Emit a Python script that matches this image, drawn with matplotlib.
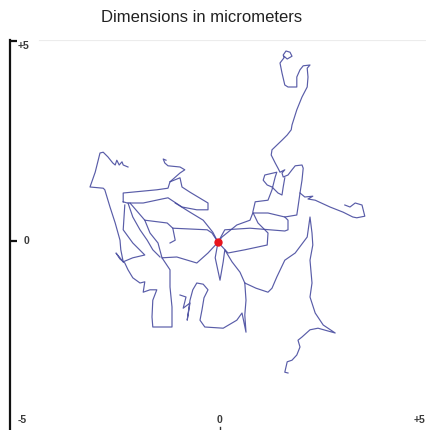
import numpy as np
import matplotlib
matplotlib.use("Agg")
import matplotlib.pyplot as plt

plt.rcParams['font.family'] = ['Liberation Sans', 'DejaVu Sans']

# ---- trajectory pieces (micrometers) ----
start_x = [-0.05]
start_y = [-0.03]

lower_right_x = [-0.05, -0.12, 0.0, 0.08, 0.12, 0.30, 0.50, 0.62, 0.90, 1.20, 1.30, 1.42, 1.62, 1.88, 2.18, 2.25,
                 2.30, 2.32, 2.25, 2.30, 2.25, 2.38, 2.58, 2.88, 2.45, 2.25, 2.05, 1.95, 2.00, 1.92, 1.80, 1.68, 1.62, 1.70]
lower_right_y = [-0.03, -0.42, -0.98, -0.52, -0.22, -0.52, -0.78, -1.05, -1.18, -1.28, -1.18, -0.90, -0.48, -0.30, 0.10, 0.60,
                 0.20, -0.10, -0.48, -1.05, -1.40, -1.80, -2.10, -2.30, -2.18, -2.22, -2.40, -2.48, -2.65, -2.85, -2.98, -3.02, -3.28, -3.30]

lower_mid_x = [0.62, 0.65, 0.62, 0.65, 0.55, 0.42, 0.08, -0.38, -0.50, -0.45, -0.40, -0.30, -0.42, -0.58, -0.68, -0.75,
               -0.82, -0.75, -0.92, -0.85, -1.00]
lower_mid_y = [-1.05, -1.48, -1.85, -2.28, -1.80, -1.98, -2.18, -2.15, -1.98, -1.72, -1.42, -1.22, -1.08, -1.05, -1.22, -1.48,
               -1.98, -1.55, -1.68, -1.40, -1.35]

tower_x = [-0.05, 0.05, 0.42, 0.75, 0.82, 1.20, 1.62, 1.92, 1.95, 2.00, 2.05, 2.08, 2.05, 1.88, 1.80, 1.70, 1.58, 1.55,
           1.62, 1.50, 1.45, 1.38, 1.28, 1.30, 1.55, 1.68, 1.78, 1.80, 1.92, 2.05, 2.18, 2.20, 2.18, 2.25, 2.08, 2.00,
           1.92, 1.92, 1.70, 1.62, 1.55, 1.50, 1.60, 1.58, 1.65, 1.75, 1.80, 1.68, 1.60]
tower_y = [-0.03, 0.10, 0.40, 0.52, 0.70, 0.70, 0.60, 0.65, 0.85, 1.20, 1.52, 1.82, 1.90, 1.88, 1.78, 1.65, 1.60, 1.70,
           1.78, 1.72, 1.82, 1.95, 2.15, 2.28, 2.52, 2.65, 2.78, 2.90, 3.28, 3.60, 3.85, 4.10, 4.32, 4.40, 4.38, 4.28,
           4.10, 3.85, 3.85, 3.90, 4.20, 4.45, 4.58, 4.65, 4.75, 4.72, 4.62, 4.55, 4.62]

cluster_x = [1.62, 1.58, 1.55, 1.45, 1.30, 1.18, 1.08, 1.12, 1.42, 1.38, 1.30, 1.20, 0.88, 0.82, 0.95, 1.20, 1.18,
             0.62, 0.20, -0.05]
cluster_y = [1.58, 1.35, 1.15, 1.20, 1.35, 1.40, 1.52, 1.65, 1.72, 1.60, 1.28, 1.02, 0.98, 0.72, 0.45, 0.20, -0.10,
             -0.22, -0.30, -0.03]

right_arm_x = [2.00, 2.12, 2.32, 2.20, 2.38, 2.75, 3.08, 3.32, 3.42, 3.62, 3.55, 3.38, 3.25, 3.12]
right_arm_y = [1.20, 1.10, 1.12, 1.05, 1.02, 0.85, 0.72, 0.60, 0.58, 0.62, 0.90, 0.95, 0.85, 0.90]

mid_band_x = [-0.05, 0.12, 0.75, 1.62, 1.70, 1.70, 1.62]
mid_band_y = [-0.03, 0.28, 0.32, 0.25, 0.28, 0.52, 0.60]

left_line_x = [-0.05, -0.20, -0.32, -0.75, -1.18, -1.32, -1.88, -2.25]
left_line_y = [-0.03, 0.20, 0.28, 0.30, 0.32, 0.45, 0.52, 0.95]

left_spur_x = [-1.18, -1.12, -1.25]
left_spur_y = [0.32, 0.02, -0.05]

upper_loop_x = [-2.42, -2.42, -1.58, -1.30, -1.25, -1.00, -0.95, -0.75, -0.30, -0.30, -0.58, -0.95, -1.30, -1.45,
                -1.92, -2.32, -2.42]
upper_loop_y = [0.98, 1.20, 1.28, 1.32, 1.48, 1.58, 1.35, 1.22, 0.95, 0.78, 0.78, 0.85, 1.08, 1.05,
                0.95, 0.95, 0.98]

upper_spur_x = [-1.25, -1.00, -0.88, -1.00, -1.30, -1.38, -1.42, -1.35]
upper_spur_y = [1.48, 1.70, 1.78, 1.85, 1.88, 1.95, 2.05, 2.02]

diagonal_x = [-1.12, -0.75, -0.42, -0.18, -0.05]
diagonal_y = [0.95, 0.72, 0.52, 0.22, -0.03]

top_left_x = [-2.30, -2.42, -2.45, -2.52, -2.58, -2.62, -2.68, -2.80, -2.92, -3.00, -3.12, -3.25, -2.92, -2.88,
              -2.75, -2.62, -2.50, -2.48, -2.42, -2.60, -2.50, -2.38, -2.30, -2.18, -2.00, -1.88, -1.92, -1.75,
              -1.58, -1.68, -1.70, -1.68, -1.20, -1.20, -1.25, -1.25, -1.45, -1.08, -0.58, -0.30, -0.05]
top_left_y = [1.85, 1.90, 1.98, 1.90, 2.02, 1.90, 1.95, 2.10, 2.22, 2.20, 1.72, 1.35, 1.32, 1.28,
              0.85, 0.45, 0.02, -0.22, -0.52, -0.30, -0.45, -0.55, -0.72, -0.92, -1.05, -1.02, -1.28, -1.22,
              -1.22, -1.48, -1.90, -2.15, -2.15, -1.65, -1.15, -0.72, -0.42, -0.40, -0.55, -0.30, -0.03]

inner_left_x = [-2.30, -2.18, -2.00, -1.82, -1.68, -1.50]
inner_left_y = [0.95, 0.60, 0.28, 0.02, -0.22, -0.40]

inner_left2_x = [-1.88, -1.75, -1.55, -1.45]
inner_left2_y = [0.52, 0.20, -0.05, -0.42]

blob_link_x = [-2.38, -2.42, -2.18, -1.88, -2.18, -2.42]
blob_link_y = [0.90, 0.28, -0.05, -0.35, -0.42, -0.52]

pieces = [
    (lower_right_x, lower_right_y), (lower_mid_x, lower_mid_y), (tower_x, tower_y),
    (cluster_x, cluster_y), (right_arm_x, right_arm_y), (mid_band_x, mid_band_y),
    (left_line_x, left_line_y), (left_spur_x, left_spur_y), (upper_loop_x, upper_loop_y),
    (upper_spur_x, upper_spur_y), (diagonal_x, diagonal_y), (top_left_x, top_left_y),
    (inner_left_x, inner_left_y), (inner_left2_x, inner_left2_y), (blob_link_x, blob_link_y),
]

x_ticks = [-5, 0, 5]
x_tick_labels = ['-5', '0', '+5']
y_ticks = [5, 0]
y_tick_labels = ['+5', '0']

fig = plt.figure(figsize=(4.27, 4.30), dpi=100)
ax = fig.add_axes([10 / 427, 0.0, 417 / 427, 390 / 430])
ax.set_xlim(-5.25, 5.175)
ax.set_ylim(-4.725, 5.025)

line_color = '#42469c'
for px, py in pieces:
    ax.plot(px, py, color=line_color, lw=0.85, alpha=0.88, solid_joinstyle='round', zorder=2)

ax.plot(start_x, start_y, 'o', color='#e8151d', markersize=6, markeredgewidth=0, zorder=3)

for s in ['top', 'right', 'bottom']:
    ax.spines[s].set_visible(False)
ax.spines['left'].set_linewidth(1.6)
ax.spines['left'].set_color('#111111')
ax.set_xticks([])
ax.set_yticks([])

# faint frame line at top
ax.axhline(5.02, xmin=0.07, xmax=1.0, color='#ececec', lw=0.8, zorder=0)

# y ticks (inward) and labels
for yv, lab in zip(y_ticks, y_tick_labels):
    ax.plot([-5.25, -5.07], [yv, yv], color='#111111', lw=1.6, clip_on=False, solid_capstyle='butt')
    ax.text(-4.9 if lab == '+5' else -4.85, yv - (0.12 if lab == '+5' else 0.0), lab,
            fontsize=7.5, fontweight='bold', color='#3a3a3a', ha='center', va='center')

# x tick labels at the bottom
for xv, lab in zip(x_ticks, x_tick_labels):
    ax.text(xv + (0.05 if xv == -5 else 0.0), -4.47, lab, fontsize=7.5, fontweight='bold',
            color='#3a3a3a', ha='center', va='center')
ax.plot([0, 0], [-4.65, -4.725], color='#333333', lw=1.0, clip_on=False)

fig.text(202 / 427, 1 - 18 / 430, 'Dimensions in micrometers', fontsize=12, color='#222222',
         ha='center', va='center')

fig.savefig('out.png', dpi=100, facecolor='white')
